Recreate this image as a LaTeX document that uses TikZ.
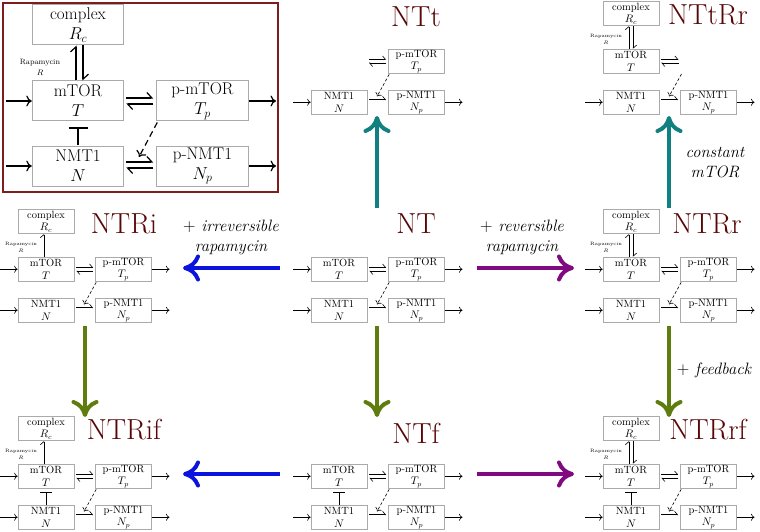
\documentclass[tikz,border=0pt]{standalone}
\usepackage{fontspec}
\usetikzlibrary{arrows.meta}
\definecolor{lbl}{RGB}{88,6,6}
\definecolor{framec}{RGB}{125,30,30}
\definecolor{tealc}{RGB}{16,128,128}
\definecolor{bluec}{RGB}{10,20,220}
\definecolor{purc}{RGB}{128,10,128}
\definecolor{olivec}{RGB}{95,125,15}
\definecolor{boxc}{RGB}{170,170,170}
\tikzset{
  mbox/.style={draw=boxc, line width=0.6pt, minimum width=56pt, minimum height=24.5pt, inner sep=0pt, align=center, font=\fontsize{10.5}{12.5}\selectfont},
  lbox/.style={draw=boxc, line width=1pt, minimum width=91.5pt, minimum height=40pt, inner sep=0pt, align=center, font=\fontsize{17}{20}\selectfont},
  mflow/.style={line width=0.6pt, -{Computer Modern Rightarrow[length=3.5pt,width=7pt]}},
  lflow/.style={line width=1.2pt, -{Computer Modern Rightarrow[length=5.5pt,width=11pt]}},
  mharp/.style={line width=0.6pt, -{Straight Barb[harpoon,length=3pt,width=7pt]}},
  lharp/.style={line width=1.2pt, -{Straight Barb[harpoon,length=5pt,width=11pt]}},
  minh/.style={line width=0.6pt, -{Bar[width=12pt]}, shorten >=3.5pt},
  linh/.style={line width=1.2pt, -{Bar[width=19pt]}, shorten >=6pt},
  mdash/.style={line width=0.6pt, dash pattern=on 3pt off 2pt, -{Computer Modern Rightarrow[length=3.5pt,width=7pt]}},
  ldash/.style={line width=1.2pt, dash pattern=on 6pt off 4pt, -{Computer Modern Rightarrow[length=5.5pt,width=11pt]}},
  mrap/.style={font=\fontsize{4.8}{6.5}\selectfont, align=center, inner sep=0pt},
  lrap/.style={font=\fontsize{7.7}{11}\selectfont, align=center, inner sep=0pt},
  title/.style={text=lbl, font=\fontsize{29}{30}\selectfont, inner sep=0pt},
  note/.style={font=\fontsize{16.5}{20}\selectfont\itshape, align=center, inner sep=0pt},
  bigarr/.style={line width=4pt, -{Computer Modern Rightarrow[length=17pt,width=27pt]}},
}
% mini-diagram parts (coordinates relative to the mTOR box top-left)
\newcommand\bT[1]{\node[mbox] (#1T) at (28,12.25) {mTOR\\$T$};}
\newcommand\bTp[1]{\node[mbox] (#1Tp) at (105.5,12.25) {p-mTOR\\$T_p$};}
\newcommand\bN[1]{\node[mbox] (#1N) at (28,53.25) {NMT1\\$N$};}
\newcommand\bNp[1]{\node[mbox] (#1Np) at (105.5,53.25) {p-NMT1\\$N_p$};}
\newcommand\bRc[1]{\node[mbox] (#1Rc) at (28,-35.5) {complex\\$R_c$};}
\newcommand\inT[1]{\coordinate (#1Tin) at (-18,12.25); \draw[mflow] (#1Tin) -- (#1T);}
\newcommand\inN[1]{\coordinate (#1Nin) at (-18,53.25); \draw[mflow] (#1Nin) -- (#1N);}
\newcommand\outTp[1]{\coordinate (#1Tpout) at (151.5,12.25); \draw[mflow] (#1Tp) -- (#1Tpout);}
\newcommand\outNp[1]{\coordinate (#1Npout) at (151.5,53.25); \draw[mflow] (#1Np) -- (#1Npout);}
\newcommand\revTTp[1]{%
  \draw[mharp] ([shift={(2pt,1.8pt)}]#1T.east) -- ([shift={(-2pt,1.8pt)}]#1Tp.west);
  \draw[mharp] ([shift={(-2pt,-1.8pt)}]#1Tp.west) -- ([shift={(2pt,-1.8pt)}]#1T.east);}
\newcommand\dashN[1]{\coordinate (#1tip) at (66,47.5); \draw[mdash] ([shift={(1pt,-0.5pt)}]#1Tp.south west) -- (#1tip);}
\newcommand\NNp[1]{\draw[mharp] ([shift={(2pt,2.5pt)}]#1N.east) -- ([shift={(-2pt,2.5pt)}]#1Np.west);}
\newcommand\rapRev[1]{%
  \draw[mharp] ([xshift=-2.2pt]#1T.north) -- ([xshift=-2.2pt]#1Rc.south);
  \draw[mharp] ([xshift=2.2pt]#1Rc.south) -- ([xshift=2.2pt]#1T.north);
  \node[mrap] (#1rap) at (3,-9.5) {Rapamycin\\$R$};}
\newcommand\rapIrr[1]{%
  \draw[mharp] ([xshift=-2.2pt]#1T.north) -- ([xshift=-2.2pt]#1Rc.south);
  \node[mrap] (#1rap) at (3,-9.5) {Rapamycin\\$R$};}
\newcommand\inhib[1]{\draw[minh] (#1N.north) -- (#1T.south);}
\newcommand\core[1]{\bT{#1}\bTp{#1}\bN{#1}\bNp{#1}\inT{#1}\inN{#1}\outTp{#1}\outNp{#1}\revTTp{#1}\dashN{#1}\NNp{#1}}
\begin{document}
\begin{tikzpicture}[x=1pt,y=-1pt]
\useasboundingbox (0,0) rectangle (760,532);
% ---------- legend ----------
\node[draw=framec, line width=1.5pt, minimum width=275pt, minimum height=189pt, inner sep=0pt] (legend) at (140.5,97.5) {};
\node[lbox] (LRc) at (78,25) {complex\\$R_c$};
\node[lbox] (LT) at (78,101) {mTOR\\$T$};
\node[lbox] (LTp) at (202.5,101) {p-mTOR\\$T_p$};
\node[lbox] (LN) at (78,166) {NMT1\\$N$};
\node[lbox] (LNp) at (202.5,166) {p-NMT1\\$N_p$};
\coordinate (LTin) at (6,101); \coordinate (LNin) at (6,166);
\coordinate (LTpout) at (276,101); \coordinate (LNpout) at (276,166);
\draw[lflow] (LTin) -- (LT);
\draw[lflow] (LNin) -- (LN);
\draw[lflow] (LTp) -- (LTpout);
\draw[lflow] (LNp) -- (LNpout);
\draw[lharp] ([shift={(2pt,3pt)}]LT.east) -- ([shift={(-3pt,3pt)}]LTp.west);
\draw[lharp] ([shift={(-3pt,-3pt)}]LTp.west) -- ([shift={(2pt,-3pt)}]LT.east);
\draw[lharp] ([shift={(2pt,4pt)}]LN.east) -- ([shift={(-3pt,4pt)}]LNp.west);
\draw[lharp] ([shift={(-3pt,-2pt)}]LNp.west) -- ([shift={(2pt,-2pt)}]LN.east);
\draw[lharp] ([xshift=-2pt]LT.north) -- ([xshift=-2pt]LRc.south);
\draw[lharp] ([xshift=5pt]LRc.south) -- ([xshift=5pt]LT.north);
\node[lrap] (Lrap) at (40,67) {Rapamycin\\$R$};
\draw[linh] (LN.north) -- (LT.south);
\coordinate (Ltip) at (139,157);
\draw[ldash] ([shift={(1pt,-1pt)}]LTp.south west) -- (Ltip);
% ---------- NT ----------
\begin{scope}[shift={(311,257)}]
\core{NT}
\end{scope}
\node[title] (tNT) at (416,224) {NT};
% ---------- NTt ----------
\begin{scope}[shift={(311,49)}]
\bTp{NTt}\bN{NTt}\bNp{NTt}\inN{NTt}\outNp{NTt}\dashN{NTt}\NNp{NTt}
\coordinate (NTtTe) at (56,12.25);
\draw[mharp] ([shift={(2pt,1.8pt)}]NTtTe) -- ([shift={(-2pt,1.8pt)}]NTtTp.west);
\draw[mharp] ([shift={(-2pt,-1.8pt)}]NTtTp.west) -- ([shift={(2pt,-1.8pt)}]NTtTe);
\end{scope}
\node[title] (tNTt) at (416,17) {NTt};
% ---------- NTtRr ----------
\begin{scope}[shift={(603,49)}]
\bRc{NTtRr}\bT{NTtRr}\bN{NTtRr}\bNp{NTtRr}\inN{NTtRr}\outNp{NTtRr}\NNp{NTtRr}\rapRev{NTtRr}
\coordinate (NTtRrTpw) at (77.5,12.25);
\draw[mharp] ([shift={(2pt,1.8pt)}]NTtRrT.east) -- ([shift={(-2pt,1.8pt)}]NTtRrTpw);
\draw[mharp] ([shift={(-2pt,-1.8pt)}]NTtRrTpw) -- ([shift={(2pt,-1.8pt)}]NTtRrT.east);
\coordinate (NTtRrds) at (78.5,25); \coordinate (NTtRrtip) at (66,47.5);
\draw[mdash] (NTtRrds) -- (NTtRrtip);
\end{scope}
\node[title] (tNTtRr) at (708,15) {NTtRr};
% ---------- NTRi ----------
\begin{scope}[shift={(18,257)}]
\bRc{NTRi}\core{NTRi}\rapIrr{NTRi}
\end{scope}
\node[title] (tNTRi) at (124,224) {NTRi};
% ---------- NTRr ----------
\begin{scope}[shift={(603,257)}]
\bRc{NTRr}\core{NTRr}\rapRev{NTRr}
\end{scope}
\node[title] (tNTRr) at (707,224) {NTRr};
% ---------- NTRif ----------
\begin{scope}[shift={(18,464)}]
\bRc{NTRif}\core{NTRif}\rapIrr{NTRif}\inhib{NTRif}
\end{scope}
\node[title] (tNTRif) at (124,430) {NTRif};
% ---------- NTf ----------
\begin{scope}[shift={(311,464)}]
\core{NTf}\inhib{NTf}
\end{scope}
\node[title] (tNTf) at (416,433) {NTf};
% ---------- NTRrf ----------
\begin{scope}[shift={(603,464)}]
\bRc{NTRrf}\core{NTRrf}\rapRev{NTRrf}\inhib{NTRrf}
\end{scope}
\node[title] (tNTRrf) at (708,430) {NTRrf};
% ---------- notes ----------
\node[note] (nirr) at (231,237.5) {$+$ irreversible\\rapamycin};
\node[note] (nrev) at (522,237.5) {$+$ reversible\\rapamycin};
\node[note] (ncon) at (715,162.5) {constant\\mTOR};
\node[note] (nfb) at (714,370) {$+$ feedback};
% ---------- big arrows ----------
\coordinate (a1s) at (377,208); \coordinate (a1e) at (377,116);
\coordinate (a2s) at (669,208); \coordinate (a2e) at (669,116);
\coordinate (a3s) at (280,268); \coordinate (a3e) at (183,268);
\coordinate (a4s) at (477,268); \coordinate (a4e) at (574,268);
\coordinate (a5s) at (377,326); \coordinate (a5e) at (377,417);
\coordinate (a6s) at (85,326);  \coordinate (a6e) at (85,417);
\coordinate (a7s) at (669,326); \coordinate (a7e) at (669,417);
\coordinate (a8s) at (280,474); \coordinate (a8e) at (183,474);
\coordinate (a9s) at (477,474); \coordinate (a9e) at (574,474);
\draw[bigarr, tealc] (a1s) -- (a1e);
\draw[bigarr, tealc] (a2s) -- (a2e);
\draw[bigarr, bluec] (a3s) -- (a3e);
\draw[bigarr, purc] (a4s) -- (a4e);
\draw[bigarr, olivec] (a5s) -- (a5e);
\draw[bigarr, olivec] (a6s) -- (a6e);
\draw[bigarr, olivec] (a7s) -- (a7e);
\draw[bigarr, bluec] (a8s) -- (a8e);
\draw[bigarr, purc] (a9s) -- (a9e);
\end{tikzpicture}
\end{document}
